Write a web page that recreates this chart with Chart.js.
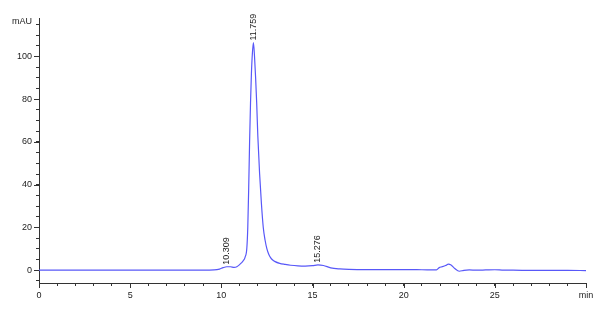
<!DOCTYPE html>
<html>
<head>
<meta charset="utf-8">
<script src="https://cdn.jsdelivr.net/npm/chart.js@4/dist/chart.umd.min.js"></script>
<style>
  html, body { margin: 0; padding: 0; background: #ffffff; }
  canvas { display: block; }
</style>
</head>
<body>
<canvas id="c" width="600" height="314"></canvas>
<script>
// ---- data ----
const times = [0, 1, 2, 3, 4, 5, 6, 7, 8, 9, 9.6, 9.9, 10.1, 10.3, 10.5, 10.7, 10.85, 11.0, 11.1, 11.2, 11.3, 11.4, 11.45, 11.5, 11.55, 11.6, 11.65, 11.7, 11.76, 11.82, 11.88, 11.94, 12.0, 12.1, 12.2, 12.3, 12.4, 12.5, 12.6, 12.7, 12.8, 12.95, 13.2, 13.5, 13.8, 14.2, 14.6, 15.0, 15.3, 15.6, 16.0, 16.5, 17.0, 18.0, 19.0, 20.0, 21.0, 21.8, 21.95, 22.1, 22.3, 22.45, 22.6, 22.8, 23.05, 23.3, 23.6, 24.0, 24.5, 25.0, 25.5, 26.0, 27.0, 28.0, 29.0, 30.0];
const signal = [0, 0, 0, 0, 0, 0, 0, 0, 0, 0, 0.1, 0.5, 1.2, 1.6, 1.6, 1.3, 1.6, 2.6, 3.4, 4.4, 6.0, 10.5, 20, 38, 60, 78, 92, 101, 106.5, 100, 90, 78, 63, 45, 31, 20, 14, 10, 7.5, 5.9, 4.9, 4.0, 3.2, 2.7, 2.3, 2.0, 1.9, 2.1, 2.5, 2.2, 1.1, 0.6, 0.4, 0.3, 0.3, 0.3, 0.2, 0.1, 1.2, 1.6, 2.2, 2.8, 2.4, 0.8, -0.5, -0.1, 0.1, 0.0, 0.1, 0.2, 0.0, 0.0, -0.1, -0.1, -0.1, -0.2];

const peakTimes = [10.309, 11.759, 15.276];
const peakLabels = ["10.309", "11.759", "15.276"];
const peakHeights = [1.6, 106.5, 2.5];

const xLabelTicks = [0, 5, 10, 15, 20, 25];
const yLabelTicks = [0, 20, 40, 60, 80, 100];
const xUnitLabel = "min";
const yUnitLabel = "mAU";

const xMin = 0, xMax = 30, yMin = -6, yMax = 118;

const FONT = '9px "Liberation Sans", Arial, sans-serif';
const AXIS = '#333333';
const TEXT = '#222222';

const decor = {
  id: 'decor',
  afterDraw(chart) {
    const ctx = chart.ctx;
    const xs = chart.scales.x, ys = chart.scales.y;
    const area = chart.chartArea;
    ctx.save();
    // longer major ticks
    ctx.strokeStyle = AXIS;
    ctx.lineWidth = 1;
    ctx.beginPath();
    xLabelTicks.concat([xMax]).forEach(v => {
      const px = Math.round(xs.getPixelForValue(v)) + 0.5;
      ctx.moveTo(px, area.bottom);
      ctx.lineTo(px, area.bottom + 5);
    });
    yLabelTicks.forEach(v => {
      const py = Math.round(ys.getPixelForValue(v)) + 0.5;
      ctx.moveTo(area.left, py);
      ctx.lineTo(area.left - 5, py);
    });
    ctx.stroke();
    // unit label on y axis
    ctx.fillStyle = TEXT;
    ctx.font = FONT;
    ctx.textAlign = 'right';
    ctx.textBaseline = 'middle';
    ctx.fillText(yUnitLabel, area.left - 7, ys.getPixelForValue(116.5));
    // peak retention time labels (rotated)
    peakTimes.forEach((t, i) => {
      const px = xs.getPixelForValue(t);
      const py = ys.getPixelForValue(peakHeights[i]) - 2;
      ctx.save();
      ctx.translate(px, py);
      ctx.rotate(-Math.PI / 2);
      ctx.textAlign = 'left';
      ctx.textBaseline = 'middle';
      ctx.fillText(peakLabels[i], 0, 0);
      ctx.restore();
    });
    ctx.restore();
  }
};

new Chart(document.getElementById('c'), {
  type: 'line',
  data: {
    datasets: [{
      data: times.map((t, i) => ({ x: t, y: signal[i] })),
      borderColor: '#5858f8',
      borderWidth: 1.2,
      pointRadius: 0,
      fill: false,
      tension: 0,
      cubicInterpolationMode: 'monotone'
    }]
  },
  options: {
    responsive: false,
    animation: false,
    devicePixelRatio: 1,
    layout: { padding: { top: 18, right: 14, left: 0, bottom: 0 } },
    plugins: { legend: { display: false }, tooltip: { enabled: false } },
    scales: {
      x: {
        type: 'linear',
        min: xMin, max: xMax,
        border: { display: true, color: AXIS, width: 1 },
        grid: { display: true, drawOnChartArea: false, drawTicks: true, tickLength: 3, color: AXIS, tickColor: AXIS },
        ticks: {
          stepSize: 1, includeBounds: false, autoSkip: false, maxRotation: 0, minRotation: 0,
          padding: 4, color: TEXT, font: { family: '"Liberation Sans", Arial, sans-serif', size: 9 },
          callback: (v) => (v === xMax ? xUnitLabel : (xLabelTicks.includes(v) ? String(v) : ''))
        },
        afterFit: (s) => { s.height = 31; }
      },
      y: {
        type: 'linear',
        min: yMin, max: yMax,
        border: { display: true, color: AXIS, width: 1 },
        grid: { display: true, drawOnChartArea: false, drawTicks: true, tickLength: 3, color: AXIS, tickColor: AXIS },
        ticks: {
          stepSize: 5, includeBounds: false, autoSkip: false,
          padding: 4, color: TEXT, font: { family: '"Liberation Sans", Arial, sans-serif', size: 9 },
          callback: (v) => (yLabelTicks.includes(v) ? String(v) : '')
        },
        afterFit: (s) => { s.width = 39; }
      }
    }
  },
  plugins: [decor]
});
</script>
</body>
</html>
